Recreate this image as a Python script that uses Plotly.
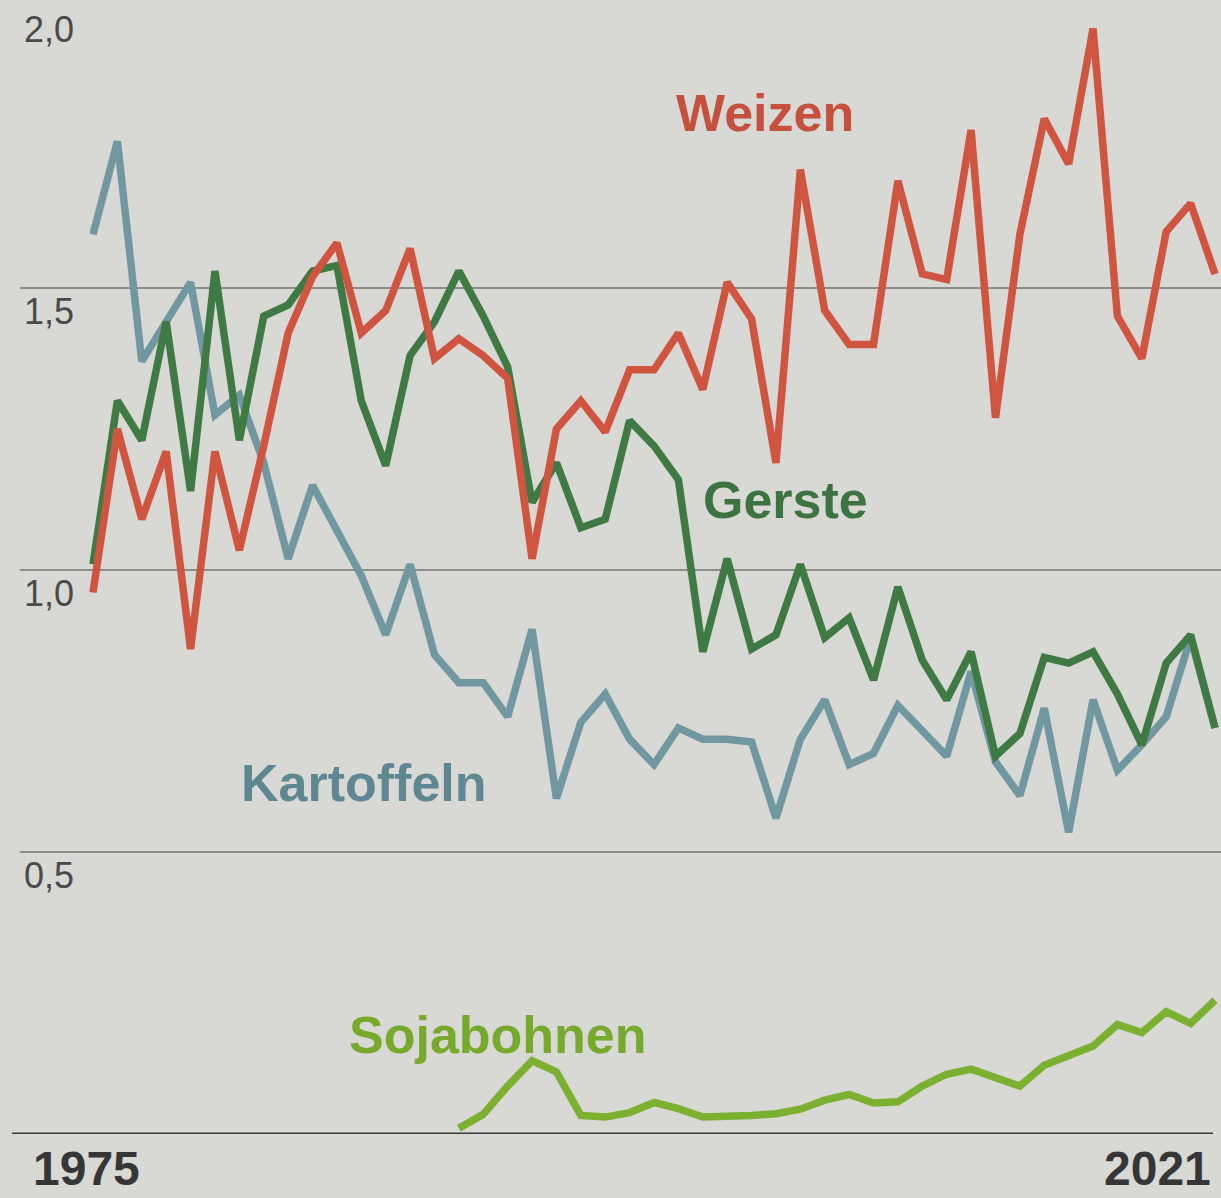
import plotly.graph_objects as go

# Years covered by the series
years = list(range(1975, 2022))

# Yields per crop (index values)
weizen = [0.96, 1.25, 1.09, 1.21, 0.86, 1.21, 1.035, 1.22, 1.42, 1.52,
          1.58, 1.42, 1.46, 1.57, 1.375, 1.41, 1.38, 1.34, 1.02, 1.25,
          1.30, 1.245, 1.355, 1.355, 1.42, 1.32, 1.51, 1.445, 1.19, 1.71,
          1.46, 1.40, 1.40, 1.69, 1.525, 1.515, 1.78, 1.27, 1.595, 1.80,
          1.72, 1.96, 1.45, 1.375, 1.60, 1.65, 1.525]

gerste = [1.01, 1.30, 1.23, 1.44, 1.14, 1.53, 1.23, 1.45, 1.47, 1.53,
          1.54, 1.30, 1.185, 1.38, 1.44, 1.53, 1.45, 1.36, 1.12, 1.19,
          1.075, 1.09, 1.265, 1.22, 1.16, 0.855, 1.02, 0.86, 0.885, 1.01,
          0.88, 0.915, 0.805, 0.97, 0.84, 0.77, 0.855, 0.67, 0.71, 0.845,
          0.835, 0.855, 0.78, 0.69, 0.835, 0.885, 0.72]

kartoffeln = [1.595, 1.76, 1.37, 1.44, 1.51, 1.275, 1.31, 1.19, 1.02, 1.15,
              1.07, 0.99, 0.885, 1.01, 0.85, 0.80, 0.80, 0.74, 0.895, 0.595,
              0.73, 0.78, 0.70, 0.655, 0.72, 0.70, 0.70, 0.695, 0.56, 0.70,
              0.77, 0.655, 0.675, 0.76, 0.715, 0.67, 0.82, 0.66, 0.60, 0.755,
              0.535, 0.77, 0.645, 0.69, 0.74, 0.88, 0.72]

# Soybeans only recorded from 1990 on
soja_years = list(range(1990, 2022))
sojabohnen = [0.01, 0.035, 0.085, 0.13, 0.11, 0.033, 0.03, 0.038, 0.056, 0.045,
              0.03, 0.03, 0.033, 0.036, 0.044, 0.06, 0.07, 0.055, 0.057, 0.085,
              0.106, 0.115, 0.10, 0.085, 0.122, 0.14, 0.156, 0.194, 0.18, 0.217,
              0.196, 0.237]

# Axis labelling
y_tick_values = [0.5, 1.0, 1.5, 2.0]
y_tick_labels = ["0,5", "1,0", "1,5", "2,0"]
x_tick_values = [1975, 2021]
x_tick_labels = ["1975", "2021"]

BG = "#d8d8d5"
FONT = "Liberation Sans, Arial, sans-serif"

series = [
    # name, x, y, line colour, label colour, label position (year, value)
    ("Kartoffeln", years, kartoffeln, "#7198a1", "#5f8791", (1986.11, 0.622)),
    ("Gerste", years, gerste, "#3f7a44", "#3c7341", (2003.41, 1.124)),
    ("Weizen", years, weizen, "#cf5541", "#c6503e", (2002.55, 1.81)),
    ("Sojabohnen", soja_years, sojabohnen, "#7cb031", "#76a92c", (1991.6, 0.176)),
]

fig = go.Figure()
annotations = []
for name, xs, ys, line_col, text_col, (lx, ly) in series:
    fig.add_trace(go.Scatter(
        x=xs, y=ys, mode="lines", name=name,
        line=dict(color=line_col, width=7.5),
        hoverinfo="x+y+name",
    ))
    annotations.append(dict(
        x=lx, y=ly, xref="x", yref="y", text=name, showarrow=False,
        xanchor="center", yanchor="middle",
        font=dict(family=FONT, size=52, color=text_col, weight="bold"),
    ))

# Value labels sitting just below their gridlines at the left edge
for v, lab in zip(y_tick_values, y_tick_labels):
    annotations.append(dict(
        x=0.002, y=v, xref="paper", yref="y", text=lab, showarrow=False,
        xanchor="left", yanchor="top", yshift=-1,
        font=dict(family=FONT, size=36, color="#4a4a4a"),
    ))

# First and last year under the baseline
for v, lab in zip(x_tick_values, x_tick_labels):
    first = v == x_tick_values[0]
    annotations.append(dict(
        x=v, y=0, xref="x", yref="y", text=lab, showarrow=False,
        xanchor="left" if first else "right", yanchor="middle",
        xshift=-62 if first else -2, yshift=-34,
        font=dict(family=FONT, size=48, color="#363636", weight="bold"),
    ))

px_per_year = (1215 - 93) / 46
x_start = 1975 - (93 - 20) / px_per_year
x_end = 2021 + (1221 - 1215) / px_per_year

fig.update_layout(
    width=1221, height=1198,
    margin=dict(l=20, r=0, t=6, b=64),
    paper_bgcolor=BG, plot_bgcolor=BG,
    showlegend=False,
    xaxis=dict(range=[x_start, x_end], showgrid=False, zeroline=False,
               showticklabels=False, ticks="", showline=False, fixedrange=True),
    yaxis=dict(range=[0, 2.0], tickvals=y_tick_values, showticklabels=False,
               showgrid=True, gridcolor="#8d8d8b", gridwidth=1.6,
               zeroline=False, ticks="", showline=False, fixedrange=True),
    annotations=annotations,
    shapes=[dict(type="line", xref="paper", yref="y",
                 x0=(12 - 20) / 1201, x1=(1213 - 20) / 1201, y0=0, y1=0,
                 line=dict(color="#3a3a3a", width=3), layer="below")],
)

fig.write_html("out.html")
